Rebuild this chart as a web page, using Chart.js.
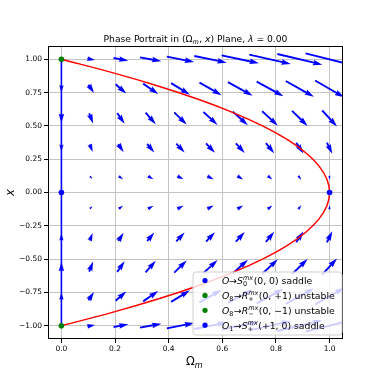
<!DOCTYPE html>
<html>
<head>
<meta charset="UTF-8">
<title>Phase Portrait</title>
<script src="https://cdn.jsdelivr.net/npm/chart.js"></script>
<style>
  html, body { margin: 0; padding: 0; background: #fff; }
</style>
</head>
<body>
<canvas id="chart" width="382" height="382"></canvas>
<script>
// quiver grid (Omega_m across, x up)
const omegaGrid = [0, 0.111, 0.222, 0.333, 0.444, 0.556, 0.667, 0.778, 0.889, 1.0];
const xGrid = [-1.0, -0.778, -0.556, -0.333, -0.111, 0.111, 0.333, 0.556, 0.778, 1.0];

// d(Omega_m)/dN, one row per xGrid value
const dOmega = [
  [0, 0.96, 1.85, 2.67, 3.41, 4.07, 4.67, 5.19, 5.63, 6.00],
  [0, 0.70, 1.33, 1.88, 2.35, 2.76, 3.09, 3.34, 3.52, 3.63],
  [0, 0.50, 0.93, 1.28, 1.56, 1.77, 1.90, 1.96, 1.94, 1.85],
  [0, 0.37, 0.67, 0.89, 1.04, 1.11, 1.11, 1.04, 0.89, 0.67],
  [0, 0.30, 0.54, 0.69, 0.77, 0.78, 0.72, 0.58, 0.36, 0.07],
  [0, 0.30, 0.54, 0.69, 0.77, 0.78, 0.72, 0.58, 0.36, 0.07],
  [0, 0.37, 0.67, 0.89, 1.04, 1.11, 1.11, 1.04, 0.89, 0.67],
  [0, 0.50, 0.93, 1.28, 1.56, 1.77, 1.90, 1.96, 1.94, 1.85],
  [0, 0.70, 1.33, 1.88, 2.35, 2.76, 3.09, 3.34, 3.52, 3.63],
  [0, 0.96, 1.85, 2.67, 3.41, 4.07, 4.67, 5.19, 5.63, 6.00]
];
// dx/dN, one row per xGrid value
const dX = [
  [0, 0.17, 0.33, 0.50, 0.67, 0.83, 1.00, 1.17, 1.33, 1.50],
  [0.92, 1.05, 1.18, 1.31, 1.44, 1.57, 1.70, 1.83, 1.96, 2.09],
  [1.15, 1.25, 1.34, 1.43, 1.52, 1.61, 1.71, 1.80, 1.89, 1.99],
  [0.89, 0.94, 1.00, 1.06, 1.11, 1.17, 1.22, 1.28, 1.33, 1.39],
  [0.33, 0.35, 0.37, 0.38, 0.40, 0.42, 0.44, 0.46, 0.48, 0.50],
  [-0.33, -0.35, -0.37, -0.38, -0.40, -0.42, -0.44, -0.46, -0.48, -0.50],
  [-0.89, -0.94, -1.00, -1.06, -1.11, -1.17, -1.22, -1.28, -1.33, -1.39],
  [-1.15, -1.25, -1.34, -1.43, -1.52, -1.61, -1.71, -1.80, -1.89, -1.99],
  [-0.92, -1.05, -1.18, -1.31, -1.44, -1.57, -1.70, -1.83, -1.96, -2.09],
  [0, -0.17, -0.33, -0.50, -0.67, -0.83, -1.00, -1.17, -1.33, -1.50]
];

// red boundary curve
const boundaryX = [-1, -0.9, -0.8, -0.7, -0.6, -0.5, -0.4, -0.3, -0.2, -0.1, 0, 0.1, 0.2, 0.3, 0.4, 0.5, 0.6, 0.7, 0.8, 0.9, 1];
const boundaryOmega = [0, 0.19, 0.36, 0.51, 0.64, 0.75, 0.84, 0.91, 0.96, 0.99, 1, 0.99, 0.96, 0.91, 0.84, 0.75, 0.64, 0.51, 0.36, 0.19, 0];

// blue invariant line Omega_m = 0
const lineOmega = [0, 0];
const lineX = [-1, 1];

// fixed points
const fixedOmega = [0, 0, 0, 1];
const fixedX = [0, 1, -1, 0];

const xTicks = [0, 0.2, 0.4, 0.6, 0.8, 1.0];
const yTicks = [-1, -0.75, -0.5, -0.25, 0, 0.25, 0.5, 0.75, 1];

const FONT = '"DejaVu Sans"';
const ARROW_SCALE = 8;   // px per unit
const ARROW_W = 1.9;

function fontStr(size, it) { return (it ? 'italic ' : '') + size + 'px ' + FONT; }

// tiny mathtext-ish renderer: plain runs, italic runs, stacked sub/superscripts
function drawRich(ctx, items, x, y, size, align) {
  let w = 0;
  const s = size * 0.7;
  for (const it of items) {
    if (it.sub !== undefined || it.sup !== undefined) {
      ctx.font = fontStr(s, it.subIt);
      const a = it.sub ? ctx.measureText(it.sub).width : 0;
      ctx.font = fontStr(s, it.supIt);
      const b = it.sup ? ctx.measureText(it.sup).width : 0;
      it._w = Math.max(a, b) + size * 0.05;
    } else {
      ctx.font = fontStr(size, it.it);
      it._w = ctx.measureText(it.t).width;
    }
    w += it._w;
  }
  let cx = align === 'center' ? x - w / 2 : x;
  ctx.textAlign = 'left';
  ctx.textBaseline = 'alphabetic';
  for (const it of items) {
    if (it.sub !== undefined || it.sup !== undefined) {
      if (it.sub) { ctx.font = fontStr(s, it.subIt); ctx.fillText(it.sub, cx, y + size * 0.22); }
      if (it.sup) { ctx.font = fontStr(s, it.supIt); ctx.fillText(it.sup, cx, y - size * 0.42); }
    } else {
      ctx.font = fontStr(size, it.it);
      ctx.fillText(it.t, cx, y);
    }
    cx += it._w;
  }
}

function drawArrow(ctx, cx, cy, dx, dy) {
  const L = Math.hypot(dx, dy);
  if (L < 0.05) return;
  const w = ARROW_W, hl = 5 * w, hw = 3 * w, hal = 4.5 * w;
  let k = 1, len = L;
  if (L < hl) { k = L / hl; len = hl; }
  ctx.save();
  ctx.translate(cx, cy);
  ctx.rotate(Math.atan2(dy, dx));
  ctx.scale(k, k);
  const x0 = -len / 2;
  ctx.beginPath();
  ctx.moveTo(x0, -w / 2);
  ctx.lineTo(x0 + len - hal, -w / 2);
  ctx.lineTo(x0 + len - hl, -hw / 2);
  ctx.lineTo(x0 + len, 0);
  ctx.lineTo(x0 + len - hl, hw / 2);
  ctx.lineTo(x0 + len - hal, w / 2);
  ctx.lineTo(x0, w / 2);
  ctx.closePath();
  ctx.fill();
  ctx.restore();
}

const quiverPlugin = {
  id: 'quiver',
  beforeDatasetsDraw(chart) {
    const { ctx, chartArea: a, scales: { x, y } } = chart;
    ctx.save();
    ctx.beginPath();
    ctx.rect(a.left, a.top, a.right - a.left, a.bottom - a.top);
    ctx.clip();
    ctx.fillStyle = '#0000ff';
    xGrid.forEach((xv, j) => {
      omegaGrid.forEach((ov, i) => {
        const px = x.getPixelForValue(ov);
        const py = y.getPixelForValue(xv);
        drawArrow(ctx, px, py, dOmega[j][i] * ARROW_SCALE, -dX[j][i] * ARROW_SCALE);
      });
    });
    ctx.restore();
  }
};

const legendEntries = [
  { color: '#0000ff', items: [{ t: 'O', it: 1 }, { t: '→' }, { t: 'S', it: 1 }, { sub: '0', sup: 'mx', supIt: 1 }, { t: '(0, 0) saddle' }] },
  { color: '#008000', items: [{ t: 'O', it: 1 }, { sub: '8' }, { t: '→' }, { t: 'R', it: 1 }, { sub: '+', sup: 'mx', supIt: 1 }, { t: '(0, +1) unstable' }] },
  { color: '#008000', items: [{ t: 'O', it: 1 }, { sub: '8' }, { t: '→' }, { t: 'R', it: 1 }, { sub: '−', sup: 'mx', supIt: 1 }, { t: '(0, −1) unstable' }] },
  { color: '#0000ff', items: [{ t: 'O', it: 1 }, { sub: '1' }, { t: '→' }, { t: 'S', it: 1 }, { sub: '+', sup: 'mx', supIt: 1 }, { t: '(+1, 0) saddle' }] }
];

const decorPlugin = {
  id: 'decor',
  afterDatasetsDraw(chart) {
    const { ctx, chartArea: a } = chart;
    ctx.save();
    // spines
    ctx.strokeStyle = '#000';
    ctx.lineWidth = 1;
    ctx.strokeRect(Math.round(a.left) + 0.5, Math.round(a.top) + 0.5, Math.round(a.right - a.left) - 1, Math.round(a.bottom - a.top) - 1);

    // legend
    const bx = 193, by = 272, bw = 149, bh = 63, r = 3;
    ctx.beginPath();
    ctx.moveTo(bx + r, by);
    ctx.arcTo(bx + bw, by, bx + bw, by + bh, r);
    ctx.arcTo(bx + bw, by + bh, bx, by + bh, r);
    ctx.arcTo(bx, by + bh, bx, by, r);
    ctx.arcTo(bx, by, bx + bw, by, r);
    ctx.closePath();
    ctx.fillStyle = 'rgba(255,255,255,0.8)';
    ctx.fill();
    ctx.strokeStyle = '#d0d0d0';
    ctx.lineWidth = 1;
    ctx.stroke();
    legendEntries.forEach((e, k) => {
      const cy = 280.5 + k * 14.9;
      ctx.fillStyle = e.color;
      ctx.beginPath();
      ctx.arc(205, cy, 2.6, 0, Math.PI * 2);
      ctx.fill();
      ctx.fillStyle = '#000';
      drawRich(ctx, e.items, 222, cy + 3.3, 9.3, 'left');
    });

    // title
    ctx.fillStyle = '#000';
    drawRich(ctx, [{ t: 'Phase Portrait in (' }, { t: 'Ω' }, { sub: 'm', subIt: 1 }, { t: ', ' }, { t: 'x', it: 1 }, { t: ') Plane, ' }, { t: 'λ', it: 1 }, { t: ' = 0.00' }],
      (a.left + a.right) / 2, 41.5, 9.2, 'center');

    // axis labels
    drawRich(ctx, [{ t: 'Ω' }, { sub: 'm', subIt: 1 }], (a.left + a.right) / 2 - 1, 365, 11.5, 'center');
    ctx.translate(13.5, (a.top + a.bottom) / 2);
    ctx.rotate(-Math.PI / 2);
    drawRich(ctx, [{ t: 'x', it: 1 }], 0, 0, 11.5, 'center');
    ctx.restore();
  }
};

const tickFont = { family: 'DejaVu Sans', size: 7.5 };

new Chart(document.getElementById('chart'), {
  type: 'scatter',
  data: {
    datasets: [
      { data: [{ x: fixedOmega[0], y: fixedX[0] }], backgroundColor: '#0000ff', pointRadius: 2.8, borderWidth: 0 },
      { data: [{ x: fixedOmega[1], y: fixedX[1] }], backgroundColor: '#008000', pointRadius: 2.8, borderWidth: 0 },
      { data: [{ x: fixedOmega[2], y: fixedX[2] }], backgroundColor: '#008000', pointRadius: 2.8, borderWidth: 0 },
      { data: [{ x: fixedOmega[3], y: fixedX[3] }], backgroundColor: '#0000ff', pointRadius: 2.8, borderWidth: 0 },
      { data: lineX.map((v, i) => ({ x: lineOmega[i], y: v })), showLine: true, borderColor: '#0000ff', borderWidth: 1.6, pointRadius: 0 },
      { data: boundaryX.map((v, i) => ({ x: boundaryOmega[i], y: v })), showLine: true, borderColor: '#ff0000', borderWidth: 1.5, pointRadius: 0, tension: 0.4 }
    ]
  },
  options: {
    responsive: false,
    animation: false,
    devicePixelRatio: 1,
    layout: { padding: { left: 0, top: 46, right: 39, bottom: 0 } },
    plugins: { legend: { display: false }, title: { display: false }, tooltip: { enabled: false } },
    scales: {
      x: {
        type: 'linear', min: -0.05, max: 1.05,
        afterBuildTicks: s => { s.ticks = xTicks.map(v => ({ value: v })); },
        afterFit: s => { s.height = 43; },
        border: { display: false },
        grid: { color: '#c4c4c4', lineWidth: 1, tickColor: '#000', tickLength: 4 },
        ticks: { font: tickFont, color: '#000', padding: 2, maxRotation: 0, autoSkip: false, callback: v => v.toFixed(1) }
      },
      y: {
        type: 'linear', min: -1.1, max: 1.1,
        afterBuildTicks: s => { s.ticks = yTicks.map(v => ({ value: v })); },
        afterFit: s => { s.width = 48; },
        border: { display: false },
        grid: { color: '#c4c4c4', lineWidth: 1, tickColor: '#000', tickLength: 4 },
        ticks: { font: tickFont, color: '#000', padding: 2, autoSkip: false, callback: v => (v < 0 ? '−' : '') + Math.abs(v).toFixed(2) }
      }
    }
  },
  plugins: [quiverPlugin, decorPlugin]
});
</script>
</body>
</html>
